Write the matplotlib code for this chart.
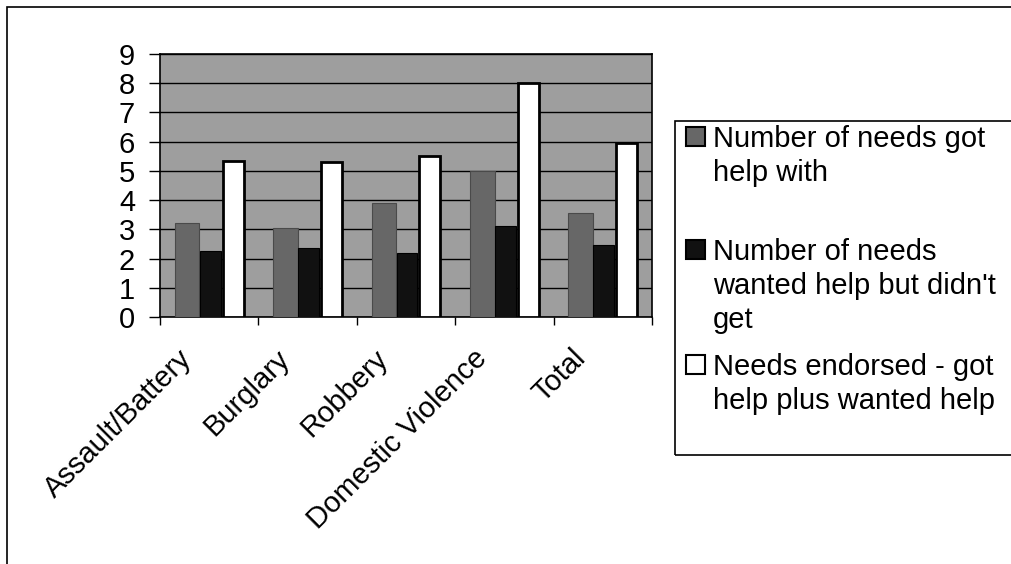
import matplotlib
matplotlib.use('Agg')
import matplotlib.pyplot as plt
import matplotlib.patches as mpatches
import matplotlib.transforms as mtransforms
import numpy as np

# chart data
categories = ['Assault/Battery', 'Burglary', 'Robbery', 'Domestic Violence', 'Total']
got_help = [3.2, 3.05, 3.9, 5.0, 3.55]
wanted_not_got = [2.25, 2.35, 2.2, 3.1, 2.45]
endorsed = [5.35, 5.3, 5.5, 8.0, 5.95]

series_labels = ['Number of needs got\nhelp with',
                 "Number of needs\nwanted help but didn't\nget",
                 'Needs endorsed - got\nhelp plus wanted help']

plt.rcParams['font.family'] = ['Liberation Sans', 'DejaVu Sans']

W, H = 1011, 564
fig = plt.figure(figsize=(W / 100, H / 100), dpi=100)
fig.patch.set_facecolor('white')

def fx(px):
	return px / W

def fy(py):
	return 1 - py / H

ax = fig.add_axes([fx(160), fy(317), fx(652) - fx(160), fy(54) - fy(317)])
ax.set_facecolor('#9e9e9e')

x = np.arange(len(categories)) + 0.5
colors = ['#676767', '#111111', 'white']
ax.bar(x - 0.224, got_help, width=0.25, color=colors[0], edgecolor='#4a4a4a', linewidth=0.8, zorder=3)
ax.bar(x + 0.01, wanted_not_got, width=0.21, color=colors[1], edgecolor='black', linewidth=0.8, zorder=3)
ax.bar(x + 0.243, endorsed, width=0.215, color=colors[2], edgecolor='black', linewidth=2, zorder=3)

ax.set_xlim(0, len(categories))
ax.set_ylim(0, 9)
ax.set_yticks(range(10))
ax.set_yticklabels([str(i) for i in range(10)], fontsize=21)
ax.yaxis.grid(True, color='black', linewidth=1, zorder=1)
ax.set_axisbelow(True)

ax.set_xticks(range(len(categories) + 1))
ax.set_xticklabels([])
ax.set_xticks(x, minor=True)
ax.set_xticklabels(categories, minor=True, rotation=45, ha='right', fontsize=21)
ax.tick_params(axis='x', which='minor', length=0, pad=8)
ax.tick_params(axis='x', which='major', length=6, width=1, direction='out')
ax.tick_params(axis='y', length=8, width=1, pad=10)

shift = mtransforms.ScaledTranslation(-12 / 100, -16 / 100, fig.dpi_scale_trans)
for lab in ax.get_xticklabels(minor=True):
	lab.set_transform(lab.get_transform() + shift)

for sp in ax.spines.values():
	sp.set_linewidth(1.2)
	sp.set_color('black')

# outer chart frame (only left and top visible)
fig.add_artist(mpatches.Rectangle((fx(7), -0.1), 1.2, fy(7) + 0.1, fill=False,
	edgecolor='black', linewidth=1.2, transform=fig.transFigure))

# legend box
fig.add_artist(mpatches.Rectangle((fx(675), fy(455)), 1.0, fy(121) - fy(455), fill=False,
	edgecolor='black', linewidth=1.2, transform=fig.transFigure))

first_baselines = [147, 260, 375]
line_h = 34
for i, lab in enumerate(series_labels):
	y0 = first_baselines[i]
	fig.add_artist(mpatches.Rectangle((fx(686), fy(y0 - 1)), fx(19), fy(y0 - 20) - fy(y0 - 1),
		facecolor=colors[i], edgecolor='black', linewidth=1.5, transform=fig.transFigure))
	for j, line in enumerate(lab.split('\n')):
		fig.text(fx(713), fy(y0 + j * line_h), line, fontsize=21, va='baseline', ha='left')

fig.savefig('out.png', dpi=100)
